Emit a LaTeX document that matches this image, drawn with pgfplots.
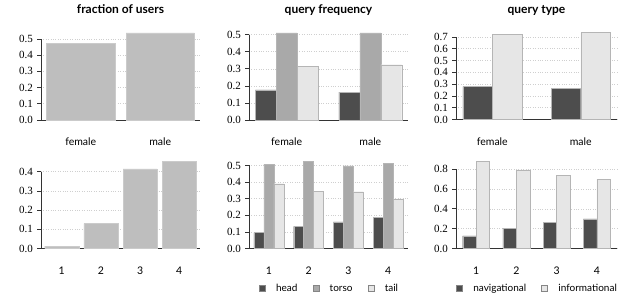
\documentclass[border=0pt]{standalone}
\usepackage{fontspec}
\setmainfont{Lato}
\newfontfamily\numfont{Liberation Serif}
\usepackage{pgfplots}
\pgfplotsset{compat=1.18}
\definecolor{single}{HTML}{BEBEBE}
\definecolor{cdark}{HTML}{4D4D4D}
\definecolor{cmid}{HTML}{A9A9A9}
\definecolor{clight}{HTML}{E6E6E6}
\definecolor{edge}{HTML}{B5B5B5}
\definecolor{axcol}{HTML}{333333}
\definecolor{gridcol}{HTML}{CFCFCF}
\pgfplotsset{
  panel/.style={
    scale only axis, width=159pt, height=87pt,
    ymin=0, axis x line*=bottom, axis y line*=left,
    x axis line style={axcol, line width=0.8pt, -},
    y axis line style={draw=none},
    xtick style={draw=none},
    ytick style={axcol, line width=0.7pt},
    tick align=outside, major tick length=4pt,
    ymajorgrids, grid style={gridcol, dotted, line width=0.6pt},
    /pgf/number format/assume math mode=true,
    yticklabel style={font=\numfont\fontsize{11}{12}\selectfont, /pgf/number format/fixed, /pgf/number format/fixed zerofill, /pgf/number format/precision=1, xshift=-0.5pt},
    xticklabel style={font=\fontsize{10.5}{12}\selectfont, anchor=base, yshift=-21.5pt},
    title style={font=\bfseries\fontsize{12}{14}\selectfont, at={(0.5,1)}, anchor=base, yshift=13.5pt},
    ybar, clip=false,
    legend style={draw=none, fill=none, at={(0.5,0)}, anchor=center, yshift=-40pt, legend columns=-1, font=\fontsize{10}{12}\selectfont,
      column sep=0pt, nodes={inner xsep=0pt}},
  },
  sq/.style={legend image code/.code={\draw[##1, draw=axcol!60] (0pt,-3pt) rectangle (6pt,3pt); \path[draw=none, fill=none] (6pt,0pt) -- (17pt,0pt);}},
}
\newcommand{\yline}[1]{\draw[axcol, line width=0.8pt] (rel axis cs:0,0) -- ({rel axis cs:0,0} |- {axis cs:0,#1});}
\begin{document}
\begin{tikzpicture}
\useasboundingbox (0,0) rectangle (629pt,295pt);
% P1
\begin{axis}[panel, at={(41pt,175pt)}, anchor=south west, title={fraction of users},
  xmin=-0.5, xmax=1.5, ymax=0.537, xtick={0,1}, xticklabels={female,male},
  ytick={0,0.1,0.2,0.3,0.4,0.5}, bar width=0.86]
\addplot[fill=single, draw=single!80!white, bar shift=0] coordinates {(0,0.471) (1,0.537)};
\yline{0.5}
\end{axis}
% P2
\begin{axis}[panel, at={(249pt,175pt)}, anchor=south west, title={query frequency},
  xmin=-0.45, xmax=1.45, ymax=0.51, xtick={0,1}, xticklabels={female,male},
  ytick={0,0.1,0.2,0.3,0.4,0.5}, bar width=0.25]
\addplot[fill=cdark, draw=edge, bar shift=-0.25] coordinates {(0,0.176) (1,0.163)};
\addplot[fill=cmid, draw=edge, bar shift=0] coordinates {(0,0.51) (1,0.51)};
\addplot[fill=clight, draw=edge, bar shift=0.25] coordinates {(0,0.314) (1,0.324)};
\yline{0.5}
\end{axis}
% P3
\begin{axis}[panel, at={(456pt,175.5pt)}, anchor=south west, width=161pt, title={query type},
  xmin=-0.41, xmax=1.41, ymax=0.737, xtick={0,1}, xticklabels={female,male},
  ytick={0,0.1,0.2,0.3,0.4,0.5,0.6,0.7}, bar width=0.333]
\addplot[fill=cdark, draw=edge, bar shift=-0.1667] coordinates {(0,0.279) (1,0.266)};
\addplot[fill=clight, draw=edge, bar shift=0.1667] coordinates {(0,0.720) (1,0.737)};
\yline{0.7}
\end{axis}
% P4
\begin{axis}[panel, at={(41pt,46.5pt)}, anchor=south west,
  xmin=-0.53, xmax=3.53, ymax=0.453, xtick={0,1,2,3}, xticklabels={1,2,3,4},
  ytick={0,0.1,0.2,0.3,0.4}, bar width=0.87]
\addplot[fill=single, draw=single!80!white, bar shift=0] coordinates {(0,0.012) (1,0.130) (2,0.415) (3,0.453)};
\yline{0.4}
\end{axis}
% P5
\begin{axis}[panel, at={(249pt,46.5pt)}, anchor=south west,
  xmin=-0.5, xmax=3.5, ymax=0.524, xtick={0,1,2,3}, xticklabels={1,2,3,4},
  ytick={0,0.1,0.2,0.3,0.4,0.5}, bar width=0.25]
\addplot[fill=cdark, draw=edge, bar shift=-0.25, sq] coordinates {(0,0.096) (1,0.133) (2,0.161) (3,0.189)};
\addplot[fill=cmid, draw=edge, bar shift=0, sq] coordinates {(0,0.508) (1,0.524) (2,0.498) (3,0.514)};
\addplot[fill=clight, draw=edge, bar shift=0.25, sq] coordinates {(0,0.390) (1,0.346) (2,0.342) (3,0.299)};
\legend{head\hspace{15pt}\mbox{},torso\hspace{15pt}\mbox{},tail}
\yline{0.5}
\end{axis}
% P6
\begin{axis}[panel, at={(456pt,46.5pt)}, anchor=south west, width=161pt,
  xmin=-0.5, xmax=3.5, ymax=0.877, xtick={0,1,2,3}, xticklabels={1,2,3,4},
  ytick={0,0.2,0.4,0.6,0.8}, bar width=0.333]
\addplot[fill=cdark, draw=edge, bar shift=-0.1667, sq] coordinates {(0,0.128) (1,0.205) (2,0.262) (3,0.299)};
\addplot[fill=clight, draw=edge, bar shift=0.1667, sq] coordinates {(0,0.877) (1,0.793) (2,0.740) (3,0.700)};
\legend{navigational\hspace{15pt}\mbox{},informational}
\yline{0.8}
\end{axis}
\end{tikzpicture}
\end{document}
